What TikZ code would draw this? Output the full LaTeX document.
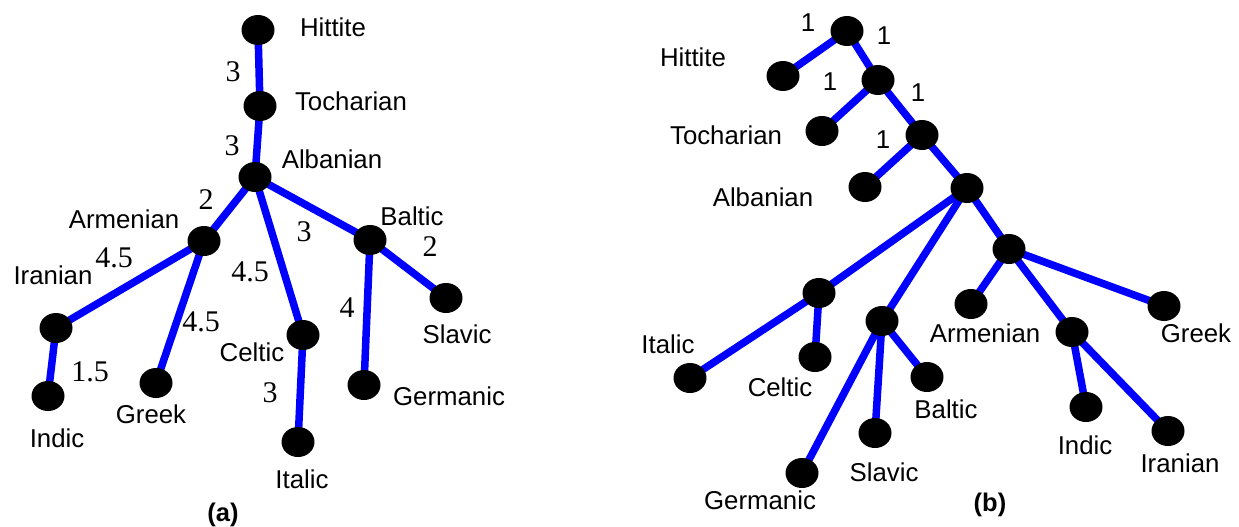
\documentclass[tikz,border=0pt]{standalone}
\usepackage{fontspec}
\setmainfont{Liberation Sans}
\newfontfamily\numfont{Liberation Serif}
\usetikzlibrary{shapes.geometric,backgrounds}
\tikzset{
  dot/.style={ellipse,fill=black,minimum width=33pt,minimum height=30pt,inner sep=0pt},
  lab/.style={inner sep=0pt,font=\fontsize{25.8}{30}\selectfont},
  num/.style={inner sep=0pt,font=\numfont\fontsize{30}{34}\selectfont},
  numb/.style={inner sep=0pt,font=\fontsize{25.8}{30}\selectfont},
  ttl/.style={inner sep=0pt,font=\bfseries\fontsize{25.5}{30}\selectfont},
  edge/.style={draw={rgb,255:red,0;green,0;blue,255},line width=7.5pt}
}
\begin{document}
\begin{tikzpicture}[x=1pt,y=-1pt]
\useasboundingbox (0,0) rectangle (1239,527);
% ---------- panel (a) ----------
\node[dot] (aH) at (258,30) {};
\node[dot] (aT) at (260,106) {};
\node[dot] (aAl) at (255,177) {};
\node[dot] (aAr) at (204,241) {};
\node[dot] (aBa) at (370,240) {};
\node[dot] (aIr) at (56,328) {};
\node[dot] (aIn) at (48,396) {};
\node[dot] (aGr) at (156,383) {};
\node[dot] (aCe) at (303,335) {};
\node[dot] (aIt) at (298,442) {};
\node[dot] (aGe) at (364,385) {};
\node[dot] (aSl) at (446,298) {};
\begin{pgfonlayer}{background}
\draw[edge] (aH.center) -- (aT.center);
\draw[edge] (aT.center) -- (aAl.center);
\draw[edge] (aAl.center) -- (aAr.center);
\draw[edge] (aAl.center) -- (aCe.center);
\draw[edge] (aAl.center) -- (aBa.center);
\draw[edge] (aAr.center) -- (aIr.center);
\draw[edge] (aAr.center) -- (aGr.center);
\draw[edge] (aIr.center) -- (aIn.center);
\draw[edge] (aCe.center) -- (aIt.center);
\draw[edge] (aBa.center) -- (aGe.center);
\draw[edge] (aBa.center) -- (aSl.center);
\end{pgfonlayer}
\node[lab] (laH) at (333,27) {Hittite};
\node[lab] (laT) at (351,101) {Tocharian};
\node[lab] (laAl) at (332,159) {Albanian};
\node[lab] (laAr) at (124,219) {Armenian};
\node[lab] (laBa) at (412,216) {Baltic};
\node[lab] (laIr) at (53,275) {Iranian};
\node[lab] (laSl) at (457,334) {Slavic};
\node[lab] (laCe) at (252,352) {Celtic};
\node[lab] (laGe) at (449,396) {Germanic};
\node[lab] (laGr) at (151,414) {Greek};
\node[lab] (laIn) at (57,438) {Indic};
\node[lab] (laIt) at (302,479) {Italic};
\node[num] (na1) at (233,72) {3};
\node[num] (na2) at (232,146) {3};
\node[num] (na3) at (206,200) {2};
\node[num] (na4) at (304,232) {3};
\node[num] (na5) at (430,247) {2};
\node[num] (na6) at (114,258) {4.5};
\node[num] (na7) at (201,322) {4.5};
\node[num] (na8) at (250,272) {4.5};
\node[num] (na9) at (347,308) {4};
\node[num] (na10) at (90,372) {1.5};
\node[num] (na11) at (270,393) {3};
\node[ttl] (ta) at (223,515) {(a)};
% ---------- panel (b) ----------
\node[dot] (bR1) at (847,31) {};
\node[dot] (bHi) at (783,76) {};
\node[dot] (bR2) at (878,80) {};
\node[dot] (bTo) at (822,131) {};
\node[dot] (bR3) at (922,135) {};
\node[dot] (bAl) at (865,187) {};
\node[dot] (bR4) at (967,188) {};
\node[dot] (bR5) at (1009,249) {};
\node[dot] (bR6) at (819,293) {};
\node[dot] (bR7) at (882,321) {};
\node[dot] (bAr) at (971,304) {};
\node[dot] (bGk) at (1164,306) {};
\node[dot] (bR8) at (1072,332) {};
\node[dot] (bIt) at (690,378) {};
\node[dot] (bCe) at (815,357) {};
\node[dot] (bBa) at (927,377) {};
\node[dot] (bSl) at (875,433) {};
\node[dot] (bGe) at (802,473) {};
\node[dot] (bIn) at (1086,407) {};
\node[dot] (bIr) at (1168,431) {};
\begin{pgfonlayer}{background}
\draw[edge] (bR1.center) -- (bHi.center);
\draw[edge] (bR1.center) -- (bR2.center);
\draw[edge] (bR2.center) -- (bTo.center);
\draw[edge] (bR2.center) -- (bR3.center);
\draw[edge] (bR3.center) -- (bAl.center);
\draw[edge] (bR3.center) -- (bR4.center);
\draw[edge] (bR4.center) -- (bR6.center);
\draw[edge] (bR4.center) -- (bR7.center);
\draw[edge] (bR4.center) -- (bR5.center);
\draw[edge] (bR6.center) -- (bIt.center);
\draw[edge] (bR6.center) -- (bCe.center);
\draw[edge] (bR7.center) -- (bGe.center);
\draw[edge] (bR7.center) -- (bSl.center);
\draw[edge] (bR7.center) -- (bBa.center);
\draw[edge] (bR5.center) -- (bAr.center);
\draw[edge] (bR5.center) -- (bR8.center);
\draw[edge] (bR5.center) -- (bGk.center);
\draw[edge] (bR8.center) -- (bIn.center);
\draw[edge] (bR8.center) -- (bIr.center);
\end{pgfonlayer}
\node[lab] (lbHi) at (693,57) {Hittite};
\node[lab] (lbTo) at (726,135) {Tocharian};
\node[lab] (lbAl) at (763,197) {Albanian};
\node[lab] (lbIt) at (668,344) {Italic};
\node[lab] (lbCe) at (780,387) {Celtic};
\node[lab] (lbBa) at (946,409) {Baltic};
\node[lab] (lbSl) at (884,472) {Slavic};
\node[lab] (lbGe) at (760,500) {Germanic};
\node[lab] (lbAr) at (985,333) {Armenian};
\node[lab] (lbGk) at (1196,333) {Greek};
\node[lab] (lbIn) at (1085,445) {Indic};
\node[lab] (lbIr) at (1180,463) {Iranian};
\node[numb] (nb1) at (808,23) {1};
\node[numb] (nb2) at (884,36) {1};
\node[numb] (nb3) at (830,82) {1};
\node[numb] (nb4) at (918,93) {1};
\node[numb] (nb5) at (883,140) {1};
\node[ttl] (tb) at (990,505) {(b)};
\end{tikzpicture}
\end{document}
